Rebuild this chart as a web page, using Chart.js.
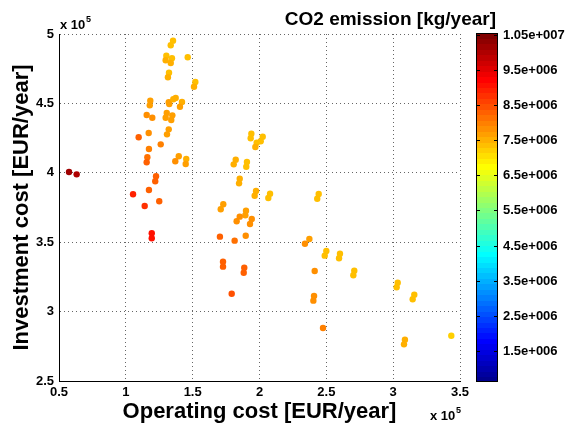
<!DOCTYPE html>
<html>
<head>
<meta charset="utf-8">
<script src="https://cdn.jsdelivr.net/npm/chart.js@4.4.1/dist/chart.umd.min.js"></script>
<style>
  html, body { margin: 0; padding: 0; background: #fff; }
</style>
</head>
<body>
<canvas id="co2Chart" width="565" height="426"></canvas>
<script>
// operating cost [EUR/year] (x), investment cost [EUR/year] (y), CO2 emission [kg/year] (colour)
var opCost = [
  57500, 63200, 135300, 133600, 146300, 130300, 129800, 134500, 133600, 132300,
  131500, 152000, 151000, 118300, 117900, 132100, 132500, 135500, 137300, 142000,
  140500, 115600, 119800, 130600, 129800, 134800, 134000, 132100, 130800, 109600,
  117100, 117300, 126100, 116100, 115600, 139600, 137000, 145200, 144800, 122600,
  122000, 105400, 117300, 114100, 125000, 119400, 119400, 193900, 193400, 202400,
  200900, 197900, 196900, 182200, 180700, 190600, 190100, 185200, 184700, 197400,
  196400, 207900, 206600, 172900, 171000, 189900, 189400, 185200, 194200, 182900,
  192900, 189700, 170400, 181400, 172700, 172700, 188600, 188200, 179200, 244300,
  243200, 237300, 234000, 250000, 248800, 260200, 259500, 241300, 270900, 270200,
  240800, 240300, 303400, 302600, 315800, 314600, 247500, 308800, 308100, 343500
];
var invCost = [
  400600, 398900, 495200, 491900, 483200, 484400, 481100, 482500, 479100, 472100,
  468800, 465400, 462000, 451900, 448600, 450800, 449600, 453000, 453900, 451000,
  447600, 441600, 439700, 443100, 439700, 441400, 438000, 431300, 427700, 425600,
  428700, 417100, 420500, 411200, 407600, 411900, 408300, 409900, 406300, 397500,
  393900, 384500, 387600, 376100, 379500, 356400, 352800, 428200, 424900, 426000,
  422700, 421700, 418600, 409400, 406100, 407800, 404400, 395700, 392400, 386900,
  383500, 384900, 381800, 377300, 373700, 372700, 369400, 368400, 366700, 365100,
  363100, 354700, 354000, 351100, 336000, 332400, 331600, 328000, 312900, 384700,
  381300, 352300, 348900, 343700, 340300, 341700, 338400, 329200, 329500, 326200,
  311200, 307900, 320800, 317500, 312200, 308900, 288200, 279800, 276400, 282600
];
var emission = [
  10200000, 10000000, 7300000, 7350000, 7300000, 7450000, 7500000, 7450000, 7500000, 7450000,
  7500000, 7450000, 7500000, 7700000, 7750000, 7700000, 7750000, 7600000, 7600000, 7600000,
  7650000, 7850000, 7800000, 7750000, 7750000, 7700000, 7750000, 7750000, 7700000, 8250000,
  7900000, 8050000, 7950000, 8200000, 8250000, 7750000, 7800000, 7600000, 7650000, 8250000,
  8250000, 8950000, 8300000, 8800000, 8300000, 9100000, 9100000, 7400000, 7450000, 7400000,
  7450000, 7450000, 7500000, 7550000, 7600000, 7400000, 7450000, 7500000, 7550000, 7500000,
  7550000, 7400000, 7450000, 7700000, 7750000, 7700000, 7750000, 7850000, 7800000, 7900000,
  7850000, 7850000, 8300000, 8150000, 8300000, 8300000, 8300000, 8300000, 8450000, 7350000,
  7400000, 7650000, 7800000, 7400000, 7450000, 7400000, 7450000, 7850000, 7400000, 7450000,
  7850000, 7850000, 7300000, 7350000, 7350000, 7400000, 8000000, 7500000, 7550000, 7200000
];

// colour scale limits and colorbar ticks
var cMin = 610000;
var cMax = 10560000;
var cbTicks = [1500000, 2500000, 3500000, 4500000, 5500000, 6500000, 7500000, 8500000, 9500000, 10500000];
var cbTickLabels = ['1.5e+006', '2.5e+006', '3.5e+006', '4.5e+006', '5.5e+006', '6.5e+006', '7.5e+006', '8.5e+006', '9.5e+006', '1.05e+007'];

// axis limits (EUR/year)
var xMin = 50000, xMax = 350000;
var yMin = 250000, yMax = 500000;
var tickStep = 50000;

// matlab jet(64)
function jetMap(m) {
    var n = Math.ceil(m / 4);
    var u = [];
    for (var i = 1; i <= n; i++) u.push(i / n);
    for (var i = 1; i < n; i++) u.push(1);
    for (var i = n; i >= 1; i--) u.push(i / n);
    var g0 = Math.ceil(n / 2) - (m % 4 == 1 ? 1 : 0);
    var map = [];
    for (var j = 0; j < m; j++) map.push([0, 0, 0]);
    for (var k = 0; k < u.length; k++) {
        var g = g0 + k + 1, r = g + n, b = g - n;
        if (g >= 1 && g <= m) map[g - 1][1] = u[k];
        if (r >= 1 && r <= m) map[r - 1][0] = u[k];
        if (b >= 1 && b <= m) map[b - 1][2] = u[k];
    }
    return map.map(function (c) {
        return 'rgb(' + Math.round(c[0] * 255) + ',' + Math.round(c[1] * 255) + ',' + Math.round(c[2] * 255) + ')';
    });
}
var jet = jetMap(64);

function colorOf(v) {
    var idx = Math.floor((v - cMin) / (cMax - cMin) * jet.length);
    if (idx < 0) idx = 0;
    if (idx > jet.length - 1) idx = jet.length - 1;
    return jet[idx];
}

var points = opCost.map(function (x, i) { return { x: x, y: invCost[i] }; });
var pointColors = emission.map(colorOf);

var fontName = '"Liberation Sans", Arial, Helvetica, sans-serif';

// colorbar, title and the x10^5 multipliers
var extrasPlugin = {
    id: 'extras',
    afterDraw: function (chart) {
        var ctx = chart.ctx;
        var area = chart.chartArea;
        var bx = 476, bw = 22;
        var top = area.top - 1, bottom = area.bottom + 1;
        var h = bottom - top;
        ctx.save();
        // colour bands
        for (var i = 0; i < jet.length; i++) {
            var y1 = bottom - h * (i + 1) / jet.length;
            var y2 = bottom - h * i / jet.length;
            ctx.fillStyle = jet[i];
            ctx.fillRect(bx, Math.floor(y1), bw, Math.ceil(y2) - Math.floor(y1));
        }
        ctx.strokeStyle = '#000';
        ctx.lineWidth = 1;
        ctx.strokeRect(bx + 0.5, top + 0.5, bw - 1, h - 1);
        // ticks and labels
        ctx.font = 'bold 13px ' + fontName;
        ctx.fillStyle = '#000';
        ctx.textAlign = 'left';
        ctx.textBaseline = 'middle';
        cbTicks.forEach(function (v, i) {
            var y = Math.round(bottom - (v - cMin) / (cMax - cMin) * h) + 0.5;
            ctx.beginPath();
            ctx.moveTo(bx, y); ctx.lineTo(bx + 4, y);
            ctx.moveTo(bx + bw - 4, y); ctx.lineTo(bx + bw, y);
            ctx.stroke();
            ctx.fillText(cbTickLabels[i], bx + bw + 5, y);
        });
        // title
        ctx.font = 'bold 19px ' + fontName;
        ctx.textAlign = 'right';
        ctx.textBaseline = 'alphabetic';
        ctx.fillText('CO2 emission [kg/year]', 496, 25);
        // exponent labels
        ctx.textAlign = 'left';
        ctx.font = 'bold 13px ' + fontName;
        ctx.fillText('x 10', 60, 29);
        ctx.fillText('x 10', 430, 420);
        ctx.font = 'bold 9px ' + fontName;
        ctx.fillText('5', 86, 22);
        ctx.fillText('5', 456, 413);
        ctx.restore();
    }
};

var ctx = document.getElementById('co2Chart').getContext('2d');
var co2Chart = new Chart(ctx, {
    type: 'scatter',
    data: {
        datasets: [{
            label: 'CO2 emission',
            data: points,
            backgroundColor: pointColors,
            borderColor: pointColors,
            borderWidth: 0,
            pointRadius: 3.2,
            pointHoverRadius: 3.2
        }]
    },
    options: {
        responsive: false,
        animation: false,
        devicePixelRatio: 1,
        layout: { padding: { top: 34, right: 105, left: 0, bottom: 0 } },
        plugins: {
            legend: { display: false },
            tooltip: { enabled: false }
        },
        scales: {
            x: {
                type: 'linear',
                min: xMin,
                max: xMax,
                afterFit: function (scale) { scale.height = 45; },
                ticks: {
                    stepSize: tickStep,
                    padding: 4,
                    maxRotation: 0,
                    color: '#000',
                    font: { family: fontName, size: 13, weight: 'bold' },
                    callback: function (v) { return String(v / 100000); }
                },
                grid: { color: 'rgba(0,0,0,0.6)', lineWidth: 1, drawTicks: false },
                border: { color: '#000', width: 1, dash: [1, 3] },
                title: {
                    display: true,
                    text: 'Operating cost [EUR/year]',
                    color: '#000',
                    font: { family: fontName, size: 22, weight: 'bold' },
                    padding: { top: 0, bottom: 1 }
                }
            },
            y: {
                type: 'linear',
                min: yMin,
                max: yMax,
                afterFit: function (scale) { scale.width = 59; },
                ticks: {
                    stepSize: tickStep,
                    padding: 5,
                    color: '#000',
                    font: { family: fontName, size: 13, weight: 'bold' },
                    callback: function (v) { return String(v / 100000); }
                },
                grid: { color: 'rgba(0,0,0,0.6)', lineWidth: 1, drawTicks: false },
                border: { color: '#000', width: 1, dash: [1, 3] },
                title: {
                    display: true,
                    text: 'Investment cost [EUR/year]',
                    color: '#000',
                    font: { family: fontName, size: 22, weight: 'bold' },
                    padding: { top: 9, bottom: 0 }
                }
            }
        }
    },
    plugins: [extrasPlugin]
});
</script>
</body>
</html>
